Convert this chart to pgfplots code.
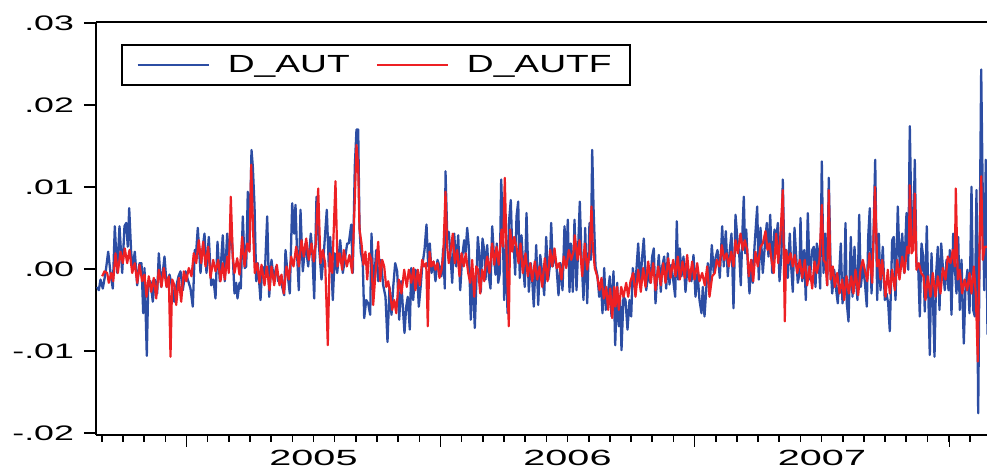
\documentclass[border=0pt]{standalone}
\usepackage{fontspec}
\usepackage{pgfplots}
\pgfplotsset{compat=1.18}
\usepackage{pgfplotstable}
\setmainfont{Liberation Sans}
\newfontfamily\tickfont{Liberation Sans}[FakeStretch=1.7]
\newfontfamily\yearfont{Liberation Sans}[FakeStretch=1.8]
\newfontfamily\legfont{Liberation Sans}[FakeStretch=1.5]
\definecolor{eblue}{RGB}{44,77,163}
\definecolor{ered}{RGB}{237,32,36}

% x: time index (one unit = one pixel of the original chart); y: value in thousandths
\pgfplotstableread{
x y
96.7 -2.2
98.3 -2.6
100 -1.3
102.3 -2.4
105 -0.5
107.7 2.1
110 -0.5
112.3 -2.4
114.3 5.2
116.7 -0.5
119 5.2
121.7 -0.5
124 5.2
125.7 5.6
127.3 2.7
128.7 7.4
130.7 1.9
132.3 0.3
134.3 2.1
136.7 -2.0
139 0.7
141 0.7
142.7 -5.4
144 0.1
146.3 -10.6
147.7 -2.2
150 -1.5
152.3 -4.0
154.3 -1.3
156.7 -3.0
158.3 1.9
160.7 -2.2
164 1.5
166.3 -2.2
169 -0.7
171.7 -2.2
173.7 -4.0
175.7 -2.2
178 -0.9
180 -0.3
182.3 -2.6
185 -0.3
187.3 -1.3
190 -2.4
192.3 -4.6
194.3 2.3
195.7 2.1
197.3 5.0
200 -0.5
201.7 2.1
204 4.3
206 -0.5
208.3 3.9
210.7 -2.0
213 -1.3
215 -3.6
217 3.3
219.3 -1.5
222.3 4.1
224.3 -1.5
226.7 4.3
228.3 1.5
230.7 5.4
232.3 1.5
234 -3.0
235.7 -1.7
237 -3.6
239 -1.7
240.3 -2.4
242.3 6.4
244.3 0.1
245.7 0.3
247.3 9.4
249 2.3
251 14.5
252.3 12.5
254 7.8
255.7 -1.5
257.3 0.7
260 -3.8
261.7 0.3
264.3 -0.7
266.7 6.4
268.7 -3.4
271 1.1
273.3 -1.3
275.7 0.3
277.7 -1.5
280 -0.9
281.7 -2.2
283.7 -3.2
285 2.3
287 -0.5
289.3 -3.0
291.7 8.0
293.7 4.3
295 7.8
296.7 1.5
298.3 -2.6
300 7.2
302.3 -0.3
305 3.1
307.7 0.3
310.3 4.3
311.7 2.3
313.7 -3.6
316 8.8
318.3 3.1
321 -1.3
323.3 1.9
326.3 7.2
328.3 0.3
329.7 3.9
332.3 -3.8
334.3 1.9
336.7 -0.5
339.7 3.5
342.3 -0.5
344.3 1.1
346.7 3.1
348.3 3.1
350.7 5.4
352.3 -0.5
354.3 12.5
356 17.0
357.7 17.0
359 5.2
360.3 2.1
362.3 0.7
363.7 -6.0
365.7 -3.8
367.7 -4.2
369.7 -5.6
371 4.3
373 -2.6
375.7 2.3
377.7 -1.5
380.3 1.1
382.7 -2.0
385 -3.4
387 -8.9
389 -2.2
391 -5.6
392.7 -2.2
394.7 0.7
396.7 -0.3
398.7 -6.2
400.7 -1.5
402.3 -4.6
404 -7.8
405.7 -4.6
407.3 -3.4
409.3 -7.4
410.7 0.1
412.7 -3.8
414.7 -0.1
416.7 -0.5
418.3 -4.6
420 -2.4
421.7 0.3
424 2.3
426 5.4
427.7 0.3
429.3 3.1
431 -0.5
433 0.9
435 -1.5
437 1.1
439 0.3
441 -0.9
442.7 2.5
444.3 -2.4
445 11.9
446.7 4.3
448.3 4.5
450 1.7
451.7 -1.7
453.7 4.3
455.7 0.3
457.7 4.1
459.7 -2.6
461.7 1.5
463.7 3.5
465 1.9
466.7 5.0
468.3 2.7
470.3 -6.2
472 -0.1
474.3 -7.2
475.7 -2.2
477.3 3.9
479 1.5
480.3 -2.8
482 3.7
483.7 2.3
485 -1.3
486.7 2.9
488.3 -0.9
490 -2.4
491.7 5.2
493.3 1.9
495 -0.7
496.3 3.1
497.7 -1.7
499.3 -0.5
500.7 10.9
502.3 4.8
503.7 -3.8
505.7 3.5
507 -5.4
508.3 5.4
510.3 8.4
511.7 2.3
513.3 2.7
514.7 -0.7
516 6.4
517.7 8.2
519.3 -1.1
521 4.1
522.7 0.3
524.3 -2.2
526 6.8
528.3 -2.8
530.3 0.7
531.7 -1.3
533.3 -4.6
535.7 2.9
537.7 -4.4
539.7 1.7
541.7 -0.5
543.7 -3.2
545.7 3.9
547.7 -1.3
549.3 0.3
550.7 5.6
552.3 0.3
554 1.9
556 0.3
558 -3.2
560 0.7
562 -2.6
564 5.2
565.7 0.5
567.3 6.0
569 -2.8
570.3 3.1
572.3 -2.8
574 6.0
576 -2.6
577.7 2.7
579.3 8.2
581 1.5
583 -3.8
584.7 5.0
586.7 -4.2
589 5.6
590.3 1.1
591.7 14.5
593 7.6
595 0.3
597 -0.9
598.7 -3.4
600.7 -2.2
602 -5.4
603.7 0.1
605.3 -5.0
607 -3.4
609.3 -0.9
611 -5.8
613 -0.3
614.7 -9.3
616.7 -1.7
618.3 -7.0
619.7 -3.8
621 -9.9
623 -3.4
625 -3.8
627 -7.4
629 -3.8
630.7 -5.8
632.3 0.1
634.3 -2.2
635.7 -0.5
637.7 3.1
639.7 -2.0
641.7 1.5
643.3 3.7
645.7 -2.6
647.7 -0.5
649.7 -1.7
651.7 1.5
653.3 2.5
655 -4.2
656.7 -0.9
658.3 1.7
660.3 -2.8
661.7 0.3
663.7 1.5
665.7 -2.4
667.3 1.9
669 -1.9
670.7 0.5
672.7 -1.3
674.7 -3.4
676.3 5.8
677.7 -1.3
679.3 2.5
681 -0.9
683 1.5
685 -2.8
687 0.3
689 -0.9
691 -1.5
693 1.7
695 -3.4
697 -0.5
699 -3.8
701 -5.4
702.3 -2.2
704 -5.8
705.7 -2.6
707.3 0.7
709.3 -2.2
711.3 2.9
713.3 -0.5
715 1.3
717 2.3
719.3 -1.1
721.7 5.2
723.3 0.3
725.3 4.6
727.3 -0.9
729 1.9
731 4.3
733 -4.8
735 6.6
737 3.5
738.7 1.9
740.3 -2.0
742 4.8
743.3 8.8
744.7 1.9
745.7 4.8
747.3 0.7
749 -3.0
750.7 1.1
752.3 -1.7
754 2.7
756.7 7.6
758.3 -1.3
760 5.0
762.3 -0.5
764 2.3
766.3 5.6
768 1.5
769.7 6.6
771.7 -0.5
774 4.8
775.7 3.3
777.3 5.6
779 -1.5
781 1.9
782.3 10.9
783.7 2.3
785.7 2.3
787.3 -1.1
789.3 4.3
790.7 0.3
792.3 -2.8
794 5.0
795.7 1.5
797.3 -1.7
799 -0.5
800 6.2
801.7 -1.5
803.7 2.3
805.3 -3.8
807.3 6.8
809.3 -1.3
811.7 2.3
813.3 2.7
815 -2.2
816.3 3.1
817.7 2.1
819.7 -2.4
821.3 13.1
823 -0.5
824.7 4.3
826.7 -2.0
828.3 11.1
830 0.7
831.7 -3.0
833.7 -0.1
835.3 -2.2
837.3 -4.2
838.7 -0.5
840.3 3.1
842 -4.2
843.7 -2.2
845 5.6
846.3 -4.2
848 -6.4
850.3 3.9
852 -3.4
854 2.7
855.7 -1.7
857 -3.8
858.7 6.6
860.3 -2.2
862.3 0.3
864.3 -1.5
866.3 -4.6
867.7 3.9
869.3 7.4
871 -3.0
872.7 2.3
874.7 13.3
876.7 -3.8
878.3 4.3
880 -2.6
882.3 2.7
884.3 -3.8
886 -3.0
887.7 -4.2
889.3 -7.6
891.7 3.5
893.3 3.9
895 -3.8
897.3 7.6
899.3 -0.1
901.7 4.3
903.7 -0.5
906 6.8
907.7 -0.1
909.3 17.4
911 5.6
912.7 3.1
914.3 13.3
916 0.3
917.7 0.3
919.3 -5.8
921 3.1
922.7 1.5
924.3 -5.2
926.3 5.2
927.7 -2.6
929.3 -10.5
931 1.9
932.3 -3.0
934 -10.7
935.7 -0.5
937.3 2.7
939 -5.0
940.7 3.1
942.3 0.3
944.3 -2.6
946 1.1
948 -2.6
949.3 2.3
951 -5.6
952.7 4.3
954.3 0.3
956 -3.0
957.7 3.9
959.3 -5.0
961 1.1
963.3 -9.1
965 -2.2
967 -0.1
969 -5.4
971 10.0
972.7 -5.0
974.3 -5.8
976 9.6
977.7 -17.6
979.3 5.2
980.7 24.3
982 11.3
983.7 -2.6
985.3 13.3
987 -8.0
}\daut

\pgfplotstableread{
x y
101.7 -0.9
104 -0.3
106.7 -0.5
108.3 -1.7
110.7 -0.5
112.7 -1.5
115 1.9
117.3 -0.5
120 2.1
122.3 0.7
124.3 2.5
126.7 0.7
129 2.3
131.7 -0.5
134.3 0.7
136.7 -1.7
139 0.5
141.7 -1.5
144 -0.7
146 -3.4
148.3 -0.9
150.7 -2.8
153.3 -1.1
155.7 -3.6
158.3 -0.1
161 -2.2
163.3 0.1
166 -2.2
168.3 -0.9
170 -10.7
171.7 -1.3
174 -2.0
175.7 -4.4
178.3 -1.1
180.7 -4.0
183.3 -0.3
185.7 -1.5
188.3 0.1
191 -0.9
193.3 1.9
195.7 0.7
198.3 3.5
200.7 0.7
202.7 3.3
205 0.3
207.7 2.7
210 -1.1
212.7 1.1
215 -0.3
217.7 1.1
220 -1.5
222.3 0.7
224.3 -1.3
226.7 1.5
228.3 -0.5
230.3 8.8
232.3 1.5
234 -0.5
236.7 1.3
239 -0.7
241.7 3.9
244 0.3
246.7 3.1
249 2.1
250.7 12.7
252.7 4.3
254.3 -0.5
256.7 0.7
259 -1.7
261 0.5
264 -2.0
266.3 0.3
269 -2.6
271 0.3
273.7 -2.0
276.3 0.5
279 -2.0
281 -0.7
283.3 -3.0
286 0.3
288.3 -1.3
290.7 1.5
293 0.3
295.7 2.7
298.3 0.3
301 3.5
303.3 1.5
305.7 3.7
308.3 1.1
311 3.1
313.3 0.9
315.3 3.1
317.7 9.8
320 0.7
322.3 2.3
324.7 0.7
327.3 -9.3
329.3 1.9
331.7 -0.5
335 10.7
337 0.3
339.3 1.9
341.7 -0.1
343.3 2.3
346.3 0.3
349 1.7
351.7 -0.5
354.3 8.4
356 15.1
357.7 12.5
359 4.8
361 3.1
363 0.5
365 2.1
366.7 -1.3
368.7 1.9
371 1.1
372.7 -4.4
375 -0.5
377.7 3.3
379.7 -1.5
381.7 1.1
383.7 0.3
385.7 -2.2
387.7 -1.5
389.7 -3.0
391.7 -5.0
393.7 -3.8
395.7 -5.4
398.3 -1.3
401 -3.0
403.7 -0.1
406.3 -2.2
408.3 -0.1
410.7 -1.7
413 0.1
415 -2.6
417.3 -0.1
419.3 -2.0
421.7 1.1
423.7 0.3
425.7 0.7
427.3 -7.0
429 2.1
431 0.3
433 0.9
435 -0.1
437 0.7
439 -1.1
441 -0.1
442.7 1.5
445 9.4
446.7 2.7
448.3 0.7
450.3 2.3
452.3 4.3
454.3 0.7
456.7 2.3
459 -0.9
461 1.9
463.3 0.3
465.3 1.9
467.7 -0.5
469.7 -1.7
471.7 1.1
473.7 -3.4
475.7 0.3
477.7 -0.1
479.7 -3.0
481.7 -0.1
483.7 -1.5
485 0.3
486.7 1.5
489 -0.5
491.7 3.1
493.7 0.5
496 2.7
498.3 0.5
501 4.8
502.7 2.7
504.3 11.1
506 2.3
508.3 -7.0
509.7 4.8
511.7 2.1
513.7 3.9
516 2.7
518 0.7
520 3.1
522.3 -0.5
525 1.9
527.3 -0.9
529.7 0.7
531.7 -1.5
534.3 0.9
536.7 -1.3
539 0.3
541.7 -2.2
544.3 1.3
547 -1.5
549.7 2.3
551.7 0.3
554 2.5
556.3 0.1
558.7 0.7
561 -1.3
563.3 1.5
565.7 0.1
568.3 2.3
570.7 1.1
573 2.1
574.3 4.1
577 1.1
579 3.5
581.7 -0.9
584.3 3.1
586.7 -0.1
589 1.9
591 7.6
592.3 2.7
594.3 0.1
596.7 -0.9
599 -2.6
601 -1.1
603.3 -3.6
605.7 -2.2
607.7 -5.0
609.7 -2.4
611.7 -6.0
613.7 -2.2
615 -4.6
616.7 -2.2
618.3 -5.0
620.7 -2.2
623 -3.4
625.7 -1.7
627.7 -3.4
630 -1.5
632.7 -0.5
635 -3.4
637.7 -0.1
640.3 -2.8
642.7 0.1
645 -2.2
647.7 0.9
650.3 -1.7
652.7 0.7
655 -2.6
657.7 0.3
660.3 -2.0
662.7 0.7
665 -1.7
667.7 1.3
670 -1.1
672.7 1.1
675 -0.9
677.3 1.5
679.3 -1.3
682 0.9
684.3 -1.1
686.7 1.7
689 -1.5
691.7 0.9
694 -1.3
696.7 0.7
699 -1.5
701.7 -0.5
704.3 -2.0
706.7 0.3
709 -3.4
711.7 -0.9
714.3 -0.5
716.3 1.1
719 0.3
721.3 2.9
723.7 1.1
726 1.9
728.3 0.3
730.7 2.1
733 0.3
735 3.5
737.3 1.9
740 4.3
742.3 2.3
744.3 3.5
746.7 2.3
748.3 -0.9
750.7 1.1
752.7 -1.5
755 2.1
757.3 0.3
760 2.7
762.3 3.1
765 4.6
767 2.3
769 3.1
771 1.1
773.3 -0.5
775.7 4.3
777.7 0.7
780 4.3
782.3 9.6
784.3 -6.4
785.7 2.3
787.7 0.7
790 1.9
792.3 0.3
794.3 1.7
796.7 -0.5
799.3 1.1
801.7 -1.1
804.3 1.1
806.7 -2.0
809 0.3
811.7 -2.4
814 0.9
816.3 -0.5
819 1.1
821.3 7.8
823 1.1
825 0.7
826.7 -2.0
828.3 9.6
830 -1.3
832.3 0.3
834.3 -2.2
836.7 -0.5
839 -3.0
841.7 -1.3
843.7 -3.8
846 -0.9
848.3 -3.0
850.7 -0.9
853 -3.0
855 -0.1
857.7 -3.2
860 -0.1
862.3 1.1
864.3 -0.1
866.7 -1.5
869 1.9
871.7 -1.7
874.5 10.0
876.7 0.3
878.3 1.1
880 -1.3
881.7 1.1
883.3 -0.9
885 -3.4
887.3 -0.1
889.3 -3.0
891.7 -0.1
894.3 -2.6
896.7 1.1
899 -1.3
901.7 1.5
904 -0.5
906.7 2.7
908.3 1.9
909.3 10.2
911 1.9
912.7 2.3
914.3 9.2
916 -0.1
918.3 0.7
920.7 -0.5
923 -0.9
925 -3.8
927.3 -0.9
930 -3.4
932.3 -0.5
935 -3.4
937.3 -0.9
940 -3.0
942.3 0.1
945 -1.3
947.3 1.5
950 0.7
952.3 2.3
954.3 0.3
955.3 9.8
957.3 -1.3
959.3 -0.1
961.7 -3.0
964 -1.3
966.7 -2.6
969 -0.5
971 -3.0
973.3 0.3
975.3 -3.0
977.3 -11.3
979 2.7
980.7 11.3
982.3 1.1
984.3 2.7
986.7 2.7
}\dautf

\begin{document}
\begin{tikzpicture}
\useasboundingbox (-48pt,-17.5pt) rectangle (445.5pt,217.5pt);
\begin{axis}[
  at={(0pt,0pt)}, anchor=south west,
  scale only axis, width=447.25pt, height=206.5pt,
  xmin=95.5, xmax=990, ymin=-20.25, ymax=30.1,
  axis x line*=bottom, axis y line*=left,
  axis line style={-, line width=1.25pt, black},
  tick align=outside,
  tick style={black, line width=0.8pt},
  major tick length=6pt, minor tick length=3.5pt,
  ytick={-20,-10,0,10,20,30},
  yticklabels={-.02,-.01,.00,.01,.02,.03},
  yticklabel style={font=\tickfont\fontsize{10.5}{12}\selectfont, xshift=-1.5pt},
  xtick={186,440,694,949},
  xticklabels={,,,},
  minor xtick={101.3,122.47,...,990},
  extra x ticks={313,567,821.5},
  extra x tick labels={2005,2006,2007},
  extra x tick style={major tick length=0pt,
    xticklabel style={font=\yearfont\fontsize{11}{12}\selectfont, yshift=-4pt}},
  legend columns=2,
  legend style={at={(0.0285,0.9467)}, anchor=north west, draw=black,
    line width=1pt, font=\legfont\fontsize{12.4}{14}\selectfont,
    inner xsep=7pt, inner ysep=3pt,
    /tikz/every odd column/.append style={column sep=7pt},
    /tikz/every even column/.append style={column sep=11pt}},
  legend image code/.code={\draw[#1] (0pt,0pt) -- (35.5pt,0pt);},
]
\addplot[eblue, line width=1.15pt, line join=round] table[x=x,y=y] {\daut};
\addlegendentry{D\_AUT}
\addplot[ered, line width=1.1pt, line join=round] table[x=x,y=y] {\dautf};
\addlegendentry{D\_AUTF}
\draw[line width=1.25pt] (rel axis cs:0,1) -- (rel axis cs:1,1);
\end{axis}
\end{tikzpicture}
\end{document}
